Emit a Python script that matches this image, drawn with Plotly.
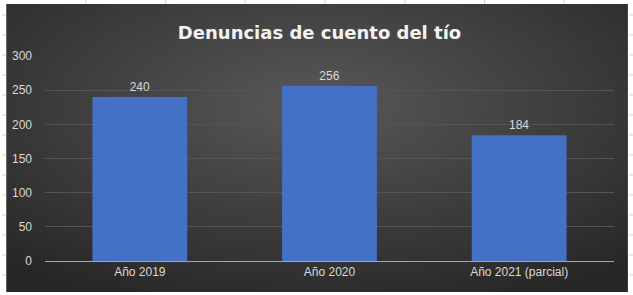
import base64
import plotly.graph_objects as go

categories = ["Año 2019", "Año 2020", "Año 2021 (parcial)"]
denuncias = [240, 256, 184]
y_ticks = [0, 50, 100, 150, 200, 250, 300]

W, H = 633, 295
L, R, T, B = 43, 19, 56, 34
pw, ph = W - L - R, H - T - B

def px_x(p):
    return (p - L) / pw

def px_y(p):
    return (H - B - p) / ph

svg = (
    '<svg xmlns="http://www.w3.org/2000/svg" width="624" height="288" preserveAspectRatio="none">'
    '<defs><radialGradient id="g" cx="50%" cy="35%" r="75%">'
    '<stop offset="0%" stop-color="#585858"/>'
    '<stop offset="100%" stop-color="#262626"/>'
    '</radialGradient></defs>'
    '<rect width="624" height="288" fill="url(#g)"/></svg>'
)
src = "data:image/svg+xml;base64," + base64.b64encode(svg.encode()).decode()

fig = go.Figure()
fig.add_trace(go.Bar(
    x=categories, y=denuncias,
    marker=dict(color="#4470C6", line=dict(width=0)),
    text=denuncias, textposition="outside",
    textfont=dict(color="#D9D9D9", size=12, family="Liberation Sans"),
    cliponaxis=False,
))

shapes = []
# spreadsheet grid outside the chart
for xv in range(84, 633, 80):
    shapes.append(dict(type="line", xref="paper", yref="paper",
                       x0=px_x(xv), x1=px_x(xv), y0=px_y(0), y1=px_y(4),
                       line=dict(color="#D4D4D4", width=1), layer="below"))
for yv in range(15, 295, 20):
    for a, b in ((629, 633), (0, 4)):
        shapes.append(dict(type="line", xref="paper", yref="paper",
                           x0=px_x(a), x1=px_x(b), y0=px_y(yv), y1=px_y(yv),
                           line=dict(color="#D4D4D4", width=1), layer="below"))

fig.update_layout(
    width=W, height=H,
    margin=dict(l=L, r=R, t=T, b=B),
    paper_bgcolor="white",
    plot_bgcolor="rgba(0,0,0,0)",
    bargap=0.5,
    showlegend=False,
    title=dict(text="Denuncias de cuento del tío", x=px_x(318.5), xref="paper", xanchor="center",
               y=1 - 33 / H, yanchor="middle",
               font=dict(family="DejaVu Sans", size=18, color="#F2F2F2", weight="bold")),
    images=[dict(source=src, xref="paper", yref="paper",
                 x=px_x(4), y=px_y(4), sizex=px_x(628) - px_x(4), sizey=px_y(4) - px_y(292),
                 xanchor="left", yanchor="top", sizing="stretch", layer="below")],
    shapes=shapes,
    xaxis=dict(showgrid=False, showline=True, linecolor="#A6A6A6", linewidth=1,
               tickfont=dict(color="#D9D9D9", size=12, family="Liberation Sans"),
               ticks="", zeroline=False),
    yaxis=dict(range=[0, 300], tickvals=y_ticks, showgrid=True, gridcolor="#555555",
               gridwidth=1, zeroline=False, showline=False, ticks="",
               tickfont=dict(color="#D9D9D9", size=12, family="Liberation Sans"),
               ticklabelstandoff=12),
)
fig.write_html("out.html")
